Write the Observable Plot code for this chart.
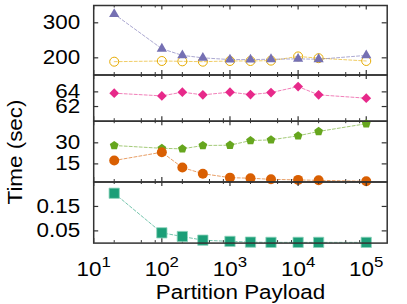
<!DOCTYPE html>
<html><head><meta charset="utf-8">
<script src="https://cdn.jsdelivr.net/npm/d3@7"></script>
<script src="https://cdn.jsdelivr.net/npm/@observablehq/plot@0.6"></script>
<style>
body{margin:0;background:#fff;}
#chart{position:relative;width:407px;height:304px;overflow:hidden;font-family:"Liberation Sans",Arial,sans-serif;}
#chart svg{position:absolute;left:0;top:0;}
#ylabel{position:absolute;left:15px;top:151.5px;font-size:20px;white-space:nowrap;color:#000;
  transform:translate(-50%,-50%) rotate(-90deg) scaleX(1.12);}
</style></head><body>
<div id="chart"><div id="ylabel">Time (sec)</div></div>
<script>
// ---- data ----
const payload = [20, 100, 200, 400, 1000, 2000, 4000, 10000, 20000, 100000];
const purpleTriangles = [325, 226, 207, 200, 195, 195, 196, 197, 196, 207];
const yellowCircles   = [189, 191, 190, 189, 191, 191, 192, 204, 199, 191];
const pinkDiamonds    = [63.82, 63.45, 63.96, 63.59, 63.96, 63.63, 63.9, 64.72, 63.59, 63.14];
const greenPentagons  = [28.1, 26.1, 25.7, 28.1, 28.3, 31.6, 32.1, 35.0, 38.1, 43.6];
const orangeCircles   = [17.4, 23.3, 12.4, 8.0, 5.2, 4.8, 4.0, 3.6, 3.3, 2.6];
const tealSquares     = [0.204, 0.042, 0.027, 0.012, 0.007, 0.004, 0.003, 0.003, 0.003, 0.003];
const xMajorTicks = [10, 100, 1000, 10000, 100000];
const xMinorTicks = [20, 50, 80, 200, 500, 800, 2000, 5000, 8000, 20000, 50000, 80000];
const yTicksTop = [200, 300];
const yTicksSecond = [62, 64];
const yTicksThird = [15, 30];
const yTicksBottom = [0.05, 0.15];
const xLabel = "Partition Payload";

// ---- symbols ----
const pentagon = {draw(ctx, size) {
  const R = Math.sqrt(size / 2.3776);
  for (let i = 0; i < 5; i++) {
    const a = -Math.PI / 2 + i * 2 * Math.PI / 5;
    const x = R * Math.cos(a), y = R * Math.sin(a);
    i ? ctx.lineTo(x, y) : ctx.moveTo(x, y);
  }
  ctx.closePath();
}};
const diamond = {draw(ctx, size) {
  const h = Math.sqrt(size / 2);
  ctx.moveTo(0, -h); ctx.lineTo(h, 0); ctx.lineTo(0, h); ctx.lineTo(-h, 0); ctx.closePath();
}};

const rowsOf = vals => payload.map((p, i) => ({p, v: vals[i]}));

const W = 407, H = 304, ML = 93.2, MR = 20.3;
const PW = W - ML - MR;
const FONT = '"Liberation Sans", Arial, sans-serif';

function series(vals, color, dotOpts) {
  const rows = rowsOf(vals);
  return [
    Plot.line(rows, {x: "p", y: "v", stroke: color, strokeOpacity: 0.6, strokeWidth: 1, strokeDasharray: "3,2"}),
    Plot.dot(rows, {x: "p", y: "v", ...dotOpts})
  ];
}

function panel({top, bottom, domain, yTicks, layers, xAxis}) {
  const ph = bottom - top;
  const marks = [
    Plot.tickX(xMajorTicks, {x: d => d, insetTop: ph - 4.5, stroke: "#333", strokeWidth: 1.2}),
    Plot.tickX(xMajorTicks, {x: d => d, insetBottom: ph - 4.5, stroke: "#333", strokeWidth: 1.2}),
    Plot.tickX(xMinorTicks, {x: d => d, insetTop: ph - 2.5, stroke: "#333", strokeWidth: 1}),
    Plot.tickX(xMinorTicks, {x: d => d, insetBottom: ph - 2.5, stroke: "#333", strokeWidth: 1}),
    Plot.tickY(yTicks, {y: d => d, insetRight: PW - 5, stroke: "#333", strokeWidth: 1.2}),
    Plot.tickY(yTicks, {y: d => d, insetLeft: PW - 5, stroke: "#333", strokeWidth: 1.2}),
    Plot.axisY({ticks: yTicks, tickSize: 0, tickPadding: 13.5, label: null, fontSize: 20, tickFormat: d => String(d)}),
    ...layers,
    Plot.frame({stroke: "#333", strokeWidth: 1.5})
  ];
  if (xAxis) {
    marks.push(Plot.axisX({ticks: xMajorTicks, tickSize: 0, tickPadding: 18.3, label: null, fontSize: 20, tickFormat: () => "10"}));
    marks.push(Plot.text([xLabel], {frameAnchor: "bottom", dy: 56, fontSize: 20, fill: "#000"}));
  }
  return Plot.plot({
    width: W, height: H,
    marginLeft: ML, marginRight: MR, marginTop: top, marginBottom: H - bottom,
    x: {type: "log", domain: [10, 2.03e5], axis: null},
    y: {domain, axis: null},
    style: {background: "transparent", overflow: "visible", fontFamily: FONT, fontSize: "20px", color: "#000"},
    marks
  });
}

const panels = [
  panel({top: 5, bottom: 74.5, domain: [151, 349.4], yTicks: yTicksTop, layers: [
    ...series(yellowCircles, "#e6ab02", {r: 4.5, stroke: "#e6ab02", fill: "none", strokeWidth: 1}),
    ...series(purpleTriangles, "#7570b3", {symbol: "triangle", r: 3.8, fill: "#7570b3"})
  ]}),
  panel({top: 74.5, bottom: 120.7, domain: [60, 66.3], yTicks: yTicksSecond, layers: [
    ...series(pinkDiamonds, "#e7298a", {symbol: diamond, r: 3.9, fill: "#e7298a"})
  ]}),
  panel({top: 120.7, bottom: 181.5, domain: [2.1, 45.4], yTicks: yTicksThird, layers: [
    ...series(greenPentagons, "#66a61e", {symbol: pentagon, r: 4.0, fill: "#66a61e"}),
    ...series(orangeCircles, "#d95f02", {r: 5, fill: "#d95f02"})
  ]}),
  panel({top: 181.5, bottom: 242.6, domain: [0, 0.25], yTicks: yTicksBottom, xAxis: true, layers: [
    ...series(tealSquares, "#1b9e77", {symbol: "square", r: 5.8, fill: "#1b9e77", stroke: "#8fd3bd", strokeWidth: 0.8})
  ]})
];

const chart = document.getElementById("chart");
panels.forEach(p => chart.appendChild(p));

// superscript exponents on the x tick labels
const exps = ["1", "2", "3", "4", "5"];
d3.select(panels[3]).selectAll('g[aria-label="x-axis tick label"] text').each(function(_, i) {
  const t = d3.select(this);
  t.text("");
  t.append("tspan").text("10");
  t.append("tspan").attr("dy", "-8.5").attr("font-size", 15).text(exps[i]);
});
// slight horizontal stretch of the text to match the reference lettering
panels.forEach(svg => {
  d3.select(svg).selectAll("text").each(function() {
    const len = this.getComputedTextLength();
    if (len > 0) {
      this.setAttribute("textLength", (len * 1.12).toFixed(2));
      this.setAttribute("lengthAdjust", "spacingAndGlyphs");
    }
  });
});
</script>
</body></html>
